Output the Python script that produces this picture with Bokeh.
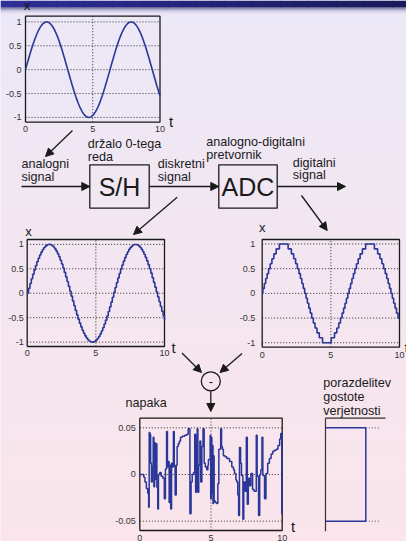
from bokeh.plotting import figure
from bokeh.models import Range1d, Arrow, NormalHead
from bokeh.core.properties import value
from bokeh.embed import file_html
from bokeh.resources import INLINE

# ---------------- data ----------------
t_fine = [0.0, 0.1, 0.2, 0.3, 0.4, 0.5, 0.6, 0.7, 0.8, 0.9,
          1.0, 1.1, 1.2, 1.3, 1.4, 1.5, 1.6, 1.7, 1.8, 1.9,
          2.0, 2.1, 2.2, 2.3, 2.4, 2.5, 2.6, 2.7, 2.8, 2.9,
          3.0, 3.1, 3.2, 3.3, 3.4, 3.5, 3.6, 3.7, 3.8, 3.9,
          4.0, 4.1, 4.2, 4.3, 4.4, 4.5, 4.6, 4.7, 4.8, 4.9,
          5.0, 5.1, 5.2, 5.3, 5.4, 5.5, 5.6, 5.7, 5.8, 5.9,
          6.0, 6.1, 6.2, 6.3, 6.4, 6.5, 6.6, 6.7, 6.8, 6.9,
          7.0, 7.1, 7.2, 7.3, 7.4, 7.5, 7.6, 7.7, 7.8, 7.9,
          8.0, 8.1, 8.2, 8.3, 8.4, 8.5, 8.6, 8.7, 8.8, 8.9,
          9.0, 9.1, 9.2, 9.3, 9.4, 9.5, 9.6, 9.7, 9.8, 9.9, 10.0]
x_analog = [0.000, 0.100, 0.199, 0.296, 0.389, 0.479, 0.565, 0.644, 0.717, 0.783,
            0.841, 0.891, 0.932, 0.964, 0.985, 0.997, 1.000, 0.992, 0.974, 0.946,
            0.909, 0.863, 0.808, 0.746, 0.676, 0.598, 0.516, 0.427, 0.335, 0.239,
            0.141, 0.042, -0.058, -0.158, -0.256, -0.351, -0.443, -0.530, -0.612, -0.688,
            -0.757, -0.818, -0.872, -0.916, -0.952, -0.978, -0.994, -1.000, -0.996, -0.983,
            -0.959, -0.926, -0.884, -0.832, -0.773, -0.706, -0.631, -0.551, -0.465, -0.374,
            -0.279, -0.182, -0.083, 0.017, 0.117, 0.215, 0.312, 0.405, 0.494, 0.578,
            0.657, 0.729, 0.794, 0.850, 0.899, 0.938, 0.968, 0.988, 0.999, 0.999,
            0.989, 0.970, 0.941, 0.902, 0.855, 0.799, 0.734, 0.663, 0.585, 0.501,
            0.412, 0.319, 0.223, 0.125, 0.025, -0.075, -0.174, -0.272, -0.367, -0.458, -0.544]

# quantized (digital) signal: level changes
q_t = [0.0, 0.05, 0.151, 0.253, 0.358, 0.467, 0.582, 0.708, 0.848, 1.016, 1.253,
       1.888, 2.126, 2.294, 2.434, 2.559, 2.675, 2.784, 2.889, 2.991, 3.092,
       3.192, 3.292, 3.394, 3.499, 3.608, 3.724, 3.849, 3.990, 4.158, 4.395,
       5.030, 5.267, 5.435, 5.576, 5.701, 5.816, 5.926, 6.030, 6.132, 6.233,
       6.333, 6.434, 6.536, 6.641, 6.750, 6.866, 6.991, 7.131, 7.299, 7.536,
       8.172, 8.409, 8.577, 8.717, 8.842, 8.958, 9.067, 9.172, 9.275, 9.375,
       9.475, 9.575, 9.677, 9.782, 9.891, 10.0]
q_v = [0.0, 0.1, 0.2, 0.3, 0.4, 0.5, 0.6, 0.7, 0.8, 0.9, 1.0,
       0.9, 0.8, 0.7, 0.6, 0.5, 0.4, 0.3, 0.2, 0.1, 0.0,
       -0.1, -0.2, -0.3, -0.4, -0.5, -0.6, -0.7, -0.8, -0.9, -1.0,
       -0.9, -0.8, -0.7, -0.6, -0.5, -0.4, -0.3, -0.2, -0.1, 0.0,
       0.1, 0.2, 0.3, 0.4, 0.5, 0.6, 0.7, 0.8, 0.9, 1.0,
       0.9, 0.8, 0.7, 0.6, 0.5, 0.4, 0.3, 0.2, 0.1, 0.0,
       -0.1, -0.2, -0.3, -0.4, -0.5, -0.5]

# quantization error (napaka)
err_t = [0.00, 0.28, 0.36, 0.46, 0.56, 0.62, 0.66, 0.71, 0.76, 0.82, 0.88, 0.94, 0.99,
         1.04, 1.09, 1.15, 1.20, 1.26, 1.31, 1.40, 1.50, 1.62, 1.72, 1.80, 1.88, 1.94,
         2.00, 2.06, 2.12, 2.17, 2.23, 2.30, 2.36, 2.42, 2.48, 2.56, 2.62, 2.70, 2.78,
         2.86, 2.98, 3.15, 3.30, 3.40, 3.52, 3.60, 3.68, 3.78, 3.86, 3.92, 3.98, 4.03,
         4.08, 4.14, 4.22, 4.28, 4.36, 4.44, 4.52, 4.60, 4.70, 4.78, 4.82, 4.94, 4.98,
         5.02, 5.06, 5.10, 5.14, 5.18, 5.22, 5.29, 5.40, 5.48, 5.55, 5.68, 5.74, 5.80,
         5.87, 5.99, 6.11, 6.30, 6.46, 6.58, 6.65, 6.75, 6.81, 6.88, 6.94, 7.00, 7.08,
         7.14, 7.24, 7.30, 7.40, 7.48, 7.55, 7.62, 7.70, 7.80, 7.92, 8.02, 8.18, 8.24,
         8.34, 8.42, 8.50, 8.58, 8.64, 8.76, 8.86, 8.98, 9.10, 9.22, 9.34, 9.45, 9.58,
         9.70, 9.82, 9.90, 9.97, 10.00]
err_v = [0.000, -0.003, -0.008, -0.015, -0.020, -0.035, 0.045, 0.043, 0.012, -0.008, 0.008, 0.040, -0.013,
         0.034, -0.005, 0.033, -0.014, -0.037, 0.000, 0.002, -0.002, -0.004, -0.026, 0.006, 0.046, 0.008,
         0.014, -0.030, 0.010, -0.037, 0.012, 0.008, 0.046, 0.010, -0.022, 0.010, 0.030, 0.033, 0.036,
         0.040, 0.041, 0.042, 0.043, 0.049, -0.042, -0.008, 0.000, 0.002, 0.043, -0.019, 0.034, 0.049,
         -0.019, 0.010, 0.036, -0.008, 0.030, 0.049, 0.012, 0.008, 0.005, 0.010, 0.016, 0.042, -0.026,
         0.040, -0.020, 0.031, -0.031, 0.020, -0.028, -0.030, -0.031, -0.010, 0.027, 0.049, 0.030, 0.027,
         0.020, 0.019, 0.017, 0.014, 0.008, 0.005, 0.001, -0.006, -0.008, -0.022, -0.044, 0.029, 0.012,
         -0.001, -0.048, -0.008, -0.018, 0.040, -0.032, -0.004, -0.012, 0.001, -0.016, -0.018, 0.042, -0.002,
         -0.044, 0.000, 0.005, 0.040, -0.001, -0.026, 0.001, 0.012, 0.017, 0.022, 0.025, 0.026, 0.027,
         0.031, 0.038, 0.044, -0.042, -0.042]

# probability density of the error (uniform)
pdf_d = [0, 10, 10, 0]
pdf_e = [-0.05, -0.05, 0.05, 0.05]

sig_yticks = [-1, -0.5, 0, 0.5, 1]
sig_ylabels = ["-1", "-0.5", "0", "0.5", "1"]
err_yticks = [-0.05, 0, 0.05]
err_ylabels = ["-0.05", "0", "0.05"]
t_ticks = [0, 5, 10]
t_labels = ["0", "5", "10"]

# ---------------- styling ----------------
FONT = value("Liberation Sans")
BLUE = "#2b3798"
INK = "#1a1a1a"
GRID = "#2a2a2a"
WIDTH, HEIGHT = 406, 541

p = figure(width=WIDTH, height=HEIGHT, x_range=Range1d(0, WIDTH), y_range=Range1d(0, HEIGHT),
           x_axis_type=None, y_axis_type=None, toolbar_location=None,
           output_backend="svg", min_border=0, outline_line_color=None)
p.background_fill_color = "#f2e6f0"
p.border_fill_color = "#f2e6f0"


def Y(ry):
    return HEIGHT - ry


# background gradient (lavender -> pink)
top_c = (235, 232, 247)
bot_c = (251, 228, 234)
bands_b, bands_t, bands_c = [], [], []
ry = 0
while ry < HEIGHT:
    f = ry / float(HEIGHT)
    c = tuple(int(round(top_c[k] + (bot_c[k] - top_c[k]) * f)) for k in range(3))
    bands_t.append(Y(ry))
    bands_b.append(Y(ry + 5))
    bands_c.append("#%02x%02x%02x" % c)
    ry += 5
p.quad(left=0, right=WIDTH, top=bands_t, bottom=bands_b, color=bands_c, line_color=None)

# header bar (dark blue, darker to the right) and its shadow
hl, hr, hc = [], [], []
n_strips = 29
for i in range(n_strips):
    f = i / (n_strips - 1.0)
    c = (int(46 - 20 * f), int(46 - 20 * f), int(152 - 62 * f))
    hl.append(i * WIDTH / n_strips)
    hr.append((i + 1) * WIDTH / n_strips + 0.5)
    hc.append("#%02x%02x%02x" % c)
p.quad(left=hl, right=hr, top=Y(0), bottom=Y(7), color=hc, line_color=None)
hdr = [(7, "#54548a"), (8, "#7c7ca6"), (9, "#a09fc2"), (10, "#bfbdd6"), (11, "#d4d1e6"),
       (12, "#e0dcf0"), (13, "#e8e4f5")]
p.quad(left=0, right=WIDTH, top=[Y(r) for r, _ in hdr], bottom=[Y(r + 1) for r, _ in hdr],
       color=[c for _, c in hdr], line_color=None)


def panel(x0, x1, ry0, ry1, ylo, yhi, yticks, ylabels, ytick_dx, xtick_dy):
    sp = p.subplot(x_source=Range1d(0, 10), y_source=Range1d(ylo, yhi),
                   x_target=Range1d(x0, x1), y_target=Range1d(Y(ry1), Y(ry0)))
    sp.multi_line(xs=[[0, 10] for _ in yticks] + [[5, 5]],
                  ys=[[v, v] for v in yticks] + [[ylo, yhi]],
                  line_color=GRID, line_dash="1 2", line_width=1)
    sp.line(x=[0, 10, 10, 0, 0], y=[ylo, ylo, yhi, yhi, ylo], line_color=INK, line_width=1.3)
    sp.text(x=[0] * len(yticks), y=yticks, text=ylabels, x_offset=ytick_dx,
            text_align="right", text_baseline="middle", text_font_size="9px",
            text_font=FONT, text_color="#333333")
    sp.text(x=t_ticks, y=[ylo] * len(t_ticks), text=t_labels, y_offset=xtick_dy,
            text_align="center", text_baseline="middle", text_font_size="9px",
            text_font=FONT, text_color="#333333")
    return sp


def axis_label(sp, x, y, txt, dx, dy, size):
    sp.text(x=[x], y=[y], text=[txt], x_offset=dx, y_offset=dy, text_align="center",
            text_baseline="middle", text_font_size=size, text_font=FONT, text_color=INK)


# panel 1: analog signal
s1 = panel(25, 159.5, 15.7, 121.7, -1.1, 1.12, sig_yticks, sig_ylabels, -4, 7)
s1.line(t_fine, x_analog, line_color=BLUE, line_width=1.6)
axis_label(s1, 10, -1.1, "t", 11.2, -1, "15px")
axis_label(s1, 0, 1.12, "x", 1.5, -10.8, "13px")

# panel 2: sample & hold signal
s2 = panel(26.7, 164, 239, 346, -1.09, 1.10, sig_yticks, sig_ylabels, -3.4, 6.7)
s2.step(t_fine, x_analog, mode="after", line_color=BLUE, line_width=1.6)
axis_label(s2, 10, -1.09, "t", 9, 0.7, "15px")
axis_label(s2, 0, 1.10, "x", 1.3, -8.3, "13px")

# panel 3: digital signal
s3 = panel(261.7, 399, 239, 346.7, -1.09, 1.09, sig_yticks, sig_ylabels, -7, 8)
s3.step(q_t, q_v, mode="after", line_color=BLUE, line_width=1.6)
axis_label(s3, 0, 1.09, "x", 0, -11.7, "13px")
axis_label(s3, 10, -1.09, "t", 7, 0, "15px")

# panel 4: error
s4 = panel(139.3, 281.7, 417.7, 530, -0.06, 0.0603, err_yticks, err_ylabels, -4, 7)
s4.step(err_t, err_v, mode="after", line_color=BLUE, line_width=1.5)
axis_label(s4, 10, -0.06, "t", 11, -4, "15px")

# pdf of the error
s5 = p.subplot(x_source=Range1d(0, 10), y_source=Range1d(-0.06, 0.0603),
               x_target=Range1d(325, 365.3), y_target=Range1d(Y(530), Y(417.7)))
s5.multi_line(xs=[[10, 13.6], [10, 13.6]], ys=[[-0.05, -0.05], [0.05, 0.05]],
              line_color="#555555", line_dash="1 2", line_width=1)
s5.line(pdf_d, pdf_e, line_color=BLUE, line_width=1.5)
p.line(x=[325, 325], y=[Y(417.7), Y(530.7)], line_color="#333333", line_width=1.2)
p.line(x=[325, 385], y=[Y(417.7), Y(417.7)], line_color="#333333", line_width=1.2)

# ---------------- block diagram ----------------
p.quad(left=[89.3, 218.3], right=[148.7, 276.7], top=[Y(164.3)] * 2, bottom=[Y(207.7)] * 2,
       fill_color=None, line_color=INK, line_width=1.3)
p.text(x=[119, 247.5], y=[Y(186), Y(186)], text=["S/H", "ADC"], text_align="center",
       text_baseline="middle", text_font_size="25px", text_font=FONT, text_color=INK)

p.circle(x=[210.3], y=[Y(380.8)], radius=9.5, fill_color=None, line_color=INK, line_width=1.3)
p.text(x=[210.3], y=[Y(380.8)], text=["-"], text_align="center", text_baseline="middle",
       text_font_size="13px", text_font=FONT, text_color=INK)

arrows = [
    (72, 130, 45, 156),
    (21, 186, 89.3, 186),
    (148.7, 186, 218.3, 186),
    (276.7, 186, 345, 186),
    (176.7, 196.7, 133, 234),
    (301, 195, 326.7, 230),
    (181.5, 352.5, 201, 372),
    (241.5, 353, 219.5, 372),
    (210.3, 390.3, 210.3, 411),
]
for xs, ys, xe, ye in arrows:
    p.add_layout(Arrow(end=NormalHead(size=8, line_color=INK, fill_color=INK, line_width=1),
                       x_start=xs, y_start=Y(ys), x_end=xe, y_end=Y(ye),
                       line_color=INK, line_width=1.3))

labels = [
    (21, 163.3, "analogni"), (21, 176, "signal"),
    (87.3, 143.3, "držalo 0-tega"), (87.3, 156.7, "reda"),
    (157.3, 163.3, "diskretni"), (157.3, 176, "signal"),
    (205.7, 141, "analogno-digitalni"), (205.7, 154, "pretvornik"),
    (292.3, 162.7, "digitalni"), (292.3, 174.3, "signal"),
    (125, 402, "napaka"),
    (322.7, 382.7, "porazdelitev"), (322.7, 396, "gostote"), (322.7, 410, "verjetnosti"),
]
p.text(x=[a for a, _, _ in labels], y=[Y(b) for _, b, _ in labels], text=[c for _, _, c in labels],
       text_align="left", text_baseline="middle", text_font_size="12.6px",
       text_font=FONT, text_color=INK)

open("out.html", "w").write(file_html(p, INLINE))
